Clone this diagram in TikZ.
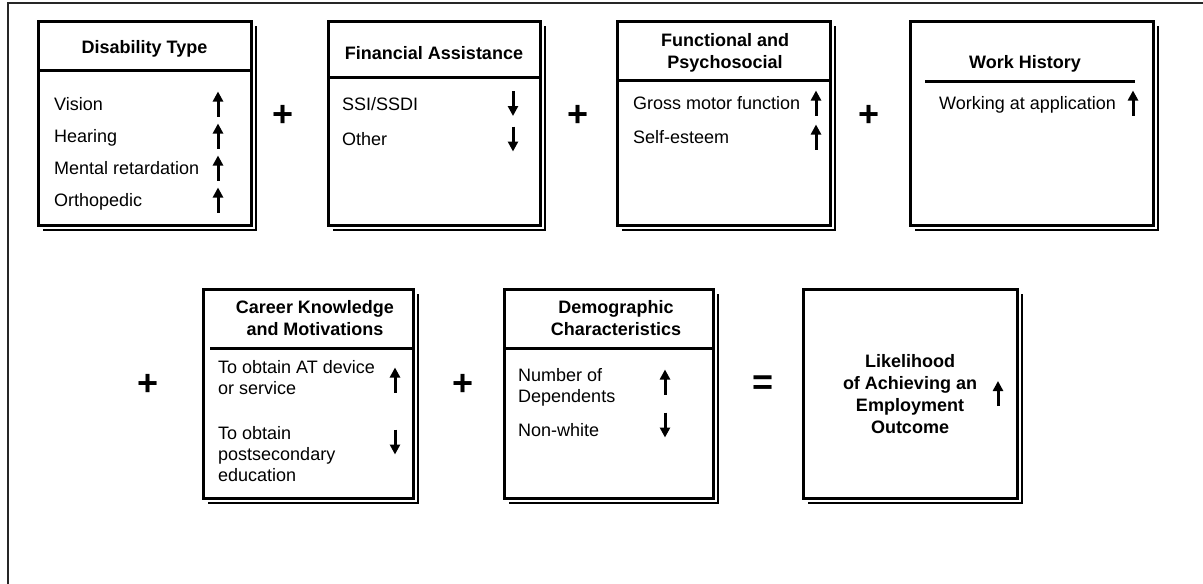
\documentclass[tikz,border=0pt]{standalone}
\usepackage{fontspec}
\setmainfont{Liberation Sans}
\usetikzlibrary{arrows.meta}
\begin{document}
\begin{tikzpicture}[x=1pt,y=-1pt,
  box/.style={draw, line width=3pt, fill=white, rectangle, inner sep=0pt, outer sep=0pt, anchor=north west},
  shadowline/.style={line width=1.2pt},
  sepline/.style={line width=3pt},
  frameline/.style={line width=1.8pt, black!85},
  item/.style={anchor=base west, font=\fontsize{18pt}{21pt}\selectfont, align=left, inner sep=0pt},
  ttl/.style={anchor=base, font=\fontsize{18pt}{22pt}\selectfont\bfseries, align=center, inner sep=0pt},
  op/.style={font=\fontsize{36pt}{36pt}\selectfont\bfseries, inner sep=0pt},
  trend/.style={line width=3pt, -{Triangle[length=10pt,width=10pt]}}
]
\useasboundingbox[fill=white] (0,0) rectangle (1203,584);
% outer frame
\coordinate (fTL) at (8,3);
\coordinate (fTR) at (1203,3);
\coordinate (fBL) at (8,584);
\draw[frameline] (fTR) -- (fTL) -- (fBL);

% ---------- row 1 ----------
\node[box, minimum width=213pt, minimum height=204pt] (b1) at (38,21) {};
\node[box, minimum width=212pt, minimum height=204pt] (b2) at (328,21) {};
\node[box, minimum width=213pt, minimum height=204pt] (b3) at (617,21) {};
\node[box, minimum width=243pt, minimum height=204pt] (b4) at (910,21) {};
% ---------- row 2 ----------
\node[box, minimum width=210pt, minimum height=209pt] (b5) at (203,289) {};
\node[box, minimum width=209pt, minimum height=209pt] (b6) at (504,289) {};
\node[box, minimum width=214pt, minimum height=209pt] (b7) at (803,289) {};

% shadows
\foreach \b in {b1,b2,b3,b4,b5,b6,b7}{
  \draw[shadowline] ([xshift=5pt,yshift=-5pt]\b.north east) -- ([xshift=5pt,yshift=-5pt]\b.south east) -- ([xshift=5pt,yshift=-5pt]\b.south west);
}

% separators
\draw[sepline] ([yshift=-49pt]b1.north west) -- ([yshift=-49pt]b1.north east);
\draw[sepline] ([yshift=-56pt]b2.north west) -- ([yshift=-56pt]b2.north east);
\draw[sepline] ([yshift=-59pt]b3.north west) -- ([yshift=-59pt]b3.north east);
\draw[sepline] ([xshift=15pt,yshift=-60pt]b4.north west) -- ([xshift=-18pt,yshift=-60pt]b4.north east);
\draw[sepline] ([xshift=7pt,yshift=-59pt]b5.north west) -- ([yshift=-59pt]b5.north east);
\draw[sepline] ([yshift=-59pt]b6.north west) -- ([yshift=-59pt]b6.north east);

% titles (anchor = baseline of last line)
\node[ttl] (t1) at (144.5,53.5) {Disability Type};
\node[ttl] (t2) at (434,59.5) {Financial Assistance};
\node[ttl] (t3) at (725,68.5) {Functional and\\Psychosocial};
\node[ttl] (t4) at (1025,68.5) {Work History};
\node[ttl] (t5) at (315,335.5) {Career Knowledge\\and Motivations};
\node[ttl] (t6) at (616,335.5) {Demographic\\Characteristics};
\node[ttl] (t7) at (910,433.5) {Likelihood\\of Achieving an\\Employment\\Outcome};

% items box 1
\node[item] (i11) at (54,110.5) {Vision};
\node[item] (i12) at (54,142.5) {Hearing};
\node[item] (i13) at (54,174.5) {Mental retardation};
\node[item] (i14) at (54,206.5) {Orthopedic};
\draw[trend] (218,116.5) -- (218,91.5);
\draw[trend] (218,148.5) -- (218,123.5);
\draw[trend] (218,180.5) -- (218,155.5);
\draw[trend] (218,212.5) -- (218,187.5);
% items box 2
\node[item] (i21) at (342,110) {SSI/SSDI};
\node[item] (i22) at (342,145.5) {Other};
\draw[trend] (513,91) -- (513,116);
\draw[trend] (513,126.5) -- (513,151.5);
% items box 3
\node[item] (i31) at (633,109.5) {Gross motor function};
\node[item] (i32) at (633,143.5) {Self-esteem};
\draw[trend] (816,115.5) -- (816,90.5);
\draw[trend] (816,149.5) -- (816,124.5);
% items box 4
\node[item] (i41) at (939,109.5) {Working at application};
\draw[trend] (1133,115.5) -- (1133,90.5);
% items box 5 (anchor = baseline of last line)
\node[item] (i51) at (218,394.5) {To obtain AT device\\or service};
\node[item] (i52) at (218,481.5) {To obtain\\postsecondary\\education};
\draw[trend] (395,392.5) -- (395,367.5);
\draw[trend] (395,429.5) -- (395,454.5);
% items box 6
\node[item] (i61) at (518,402.5) {Number of\\Dependents};
\node[item] (i62) at (518,436.5) {Non-white};
\draw[trend] (665,394.5) -- (665,369.5);
\draw[trend] (665,412.5) -- (665,437.5);
% box 7
\draw[trend] (998,406) -- (998,381);

% operators
\node[op] (p1) at (283,116) {+};
\node[op] (p2) at (578,116) {+};
\node[op] (p3) at (869,116) {+};
\node[op] (p4) at (148,385) {+};
\node[op] (p5) at (463,385) {+};
\node[op] (eq) at (763,385) {=};
\end{tikzpicture}
\end{document}
